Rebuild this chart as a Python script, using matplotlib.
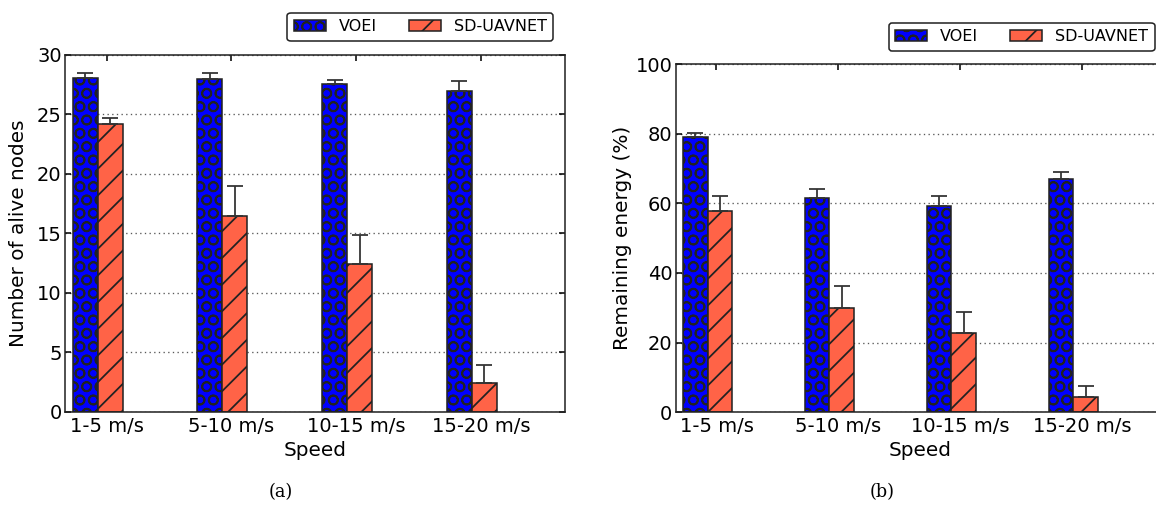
import numpy as np
import matplotlib
matplotlib.use("Agg")
from matplotlib import pyplot as plt

speeds = ['1-5 m/s', '5-10 m/s', '10-15 m/s', '15-20 m/s']
labels = ['VOEI', 'SD-UAVNET']

alive_voei = [28.1, 28.0, 27.6, 27.0]
alive_voei_err = [0.4, 0.5, 0.3, 0.8]
alive_sd = [24.2, 16.5, 12.4, 2.4]
alive_sd_err = [0.5, 2.5, 2.5, 1.5]

energy_voei = [79.0, 61.5, 59.1, 66.9]
energy_voei_err = [1.2, 2.7, 3.1, 2.2]
energy_sd = [57.9, 30.0, 22.9, 4.5]
energy_sd_err = [4.3, 6.3, 5.8, 3.1]

dpi = 160
fig = plt.figure(figsize=(1156 / dpi, 507 / dpi), dpi=dpi)
plt.rcParams['hatch.color'] = 'black'
plt.rcParams['hatch.linewidth'] = 0.8

W, H = 1156.0, 507.0
ax1 = fig.add_axes([65 / W, 1 - 411.7 / H, 500 / W, 356.7 / H])
ax2 = fig.add_axes([675.6 / W, 1 - 412.3 / H, 489 / W, 348.3 / H])

ind = np.arange(len(speeds))
width = 0.2
edge = '#222222'


def draw(ax, v1, e1, v2, e2, ymax, yticks, ylabel, ylx):
    ax.set_axisbelow(True)
    ax.yaxis.grid(True, linestyle=(0, (1, 2.5)), color='0.35', linewidth=0.6)
    ax.bar(ind, v1, width, align='edge', color='#0000ff', edgecolor=edge,
           linewidth=0.7, hatch='OO', label=labels[0],
           yerr=[np.zeros(len(e1)), e1], ecolor='0.2',
           error_kw=dict(elinewidth=0.8, capsize=3.5, capthick=0.8))
    ax.bar(ind + width, v2, width, align='edge', color='#ff6347', edgecolor=edge,
           linewidth=0.7, hatch='//', label=labels[1],
           yerr=[np.zeros(len(e2)), e2], ecolor='0.2',
           error_kw=dict(elinewidth=0.8, capsize=3.5, capthick=0.8))
    ax.set_xlim(-0.062, 3.948)
    ax.set_ylim(0, ymax)
    ax.set_yticks(yticks)
    ax.set_xticks(ind + 0.273)
    ax.set_xticklabels(speeds)
    ax.tick_params(axis='x', direction='in', top=True, bottom=True, length=2.5,
                   width=0.7, labelsize=8.8, pad=2.3)
    ax.tick_params(axis='y', direction='in', left=True, right=True, length=2.5,
                   width=0.7, labelsize=8.8, pad=1.5)
    for s in ax.spines.values():
        s.set_linewidth(0.7)
        s.set_color('#222222')
    ax.set_xlabel('Speed', fontsize=9)
    ax.set_ylabel(ylabel, fontsize=9)
    ax.yaxis.set_label_coords(ylx, 0.5)
    ax.xaxis.set_label_coords(0.5, -0.083)


draw(ax1, alive_voei, alive_voei_err, alive_sd, alive_sd_err, 30,
     [0, 5, 10, 15, 20, 25, 30], 'Number of alive nodes', -0.074)
draw(ax2, energy_voei, energy_voei_err, energy_sd, energy_sd_err, 100,
     [0, 20, 40, 60, 80, 100], 'Remaining energy (%)', -0.090)

for ax, anchor in [(ax1, (553 / W, 1 - 13 / H)), (ax2, (1154.5 / W, 1 - 23 / H))]:
    leg = ax.legend(ncol=2, loc='upper right', bbox_to_anchor=anchor,
                    bbox_transform=fig.transFigure, borderaxespad=0,
                    fontsize=7.2, fancybox=True, framealpha=1)
    leg.get_frame().set_edgecolor('#222222')
    leg.get_frame().set_linewidth(0.7)

fig.text(281 / W, 1 - 492 / H, '(a)', ha='center', va='center',
         family='DejaVu Serif', fontsize=8)
fig.text(882 / W, 1 - 492 / H, '(b)', ha='center', va='center',
         family='DejaVu Serif', fontsize=8)

fig.savefig('out.png', dpi=dpi)
